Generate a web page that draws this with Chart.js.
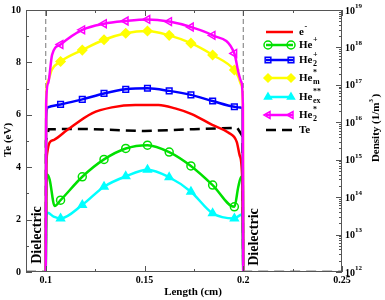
<!DOCTYPE html>
<html><head><meta charset="utf-8">
<script src="https://cdn.jsdelivr.net/npm/chart.js@4"></script>
<style>html,body{margin:0;padding:0;background:#fff;}canvas{display:block;}</style>
</head><body>
<canvas id="c" width="385" height="300"></canvas>
<script>
// ---- data ----
const lengthMarkers = [0.1075, 0.1185, 0.1295, 0.1405, 0.1515, 0.1625, 0.1735, 0.1845, 0.1955];

const eX = [0.1, 0.1003, 0.1008, 0.1020, 0.1042, 0.1110, 0.1234, 0.1335, 0.1453, 0.1571, 0.1655, 0.1739, 0.1843, 0.1924, 0.1967, 0.1982, 0.1995, 0.2];
const eDensity = [1e12, 5e14, 1.6e15, 2.9e15, 3.4e15, 6.3e15, 1.74e16, 2.5e16, 2.9e16, 2.9e16, 2.35e16, 1.66e16, 8.5e15, 5.3e15, 3.0e15, 1.3e15, 3e14, 1e12];

const hePlusX = [0.1, 0.1003, 0.1008, 0.1020, 0.1045, 0.1075, 0.1185, 0.1295, 0.1405, 0.1515, 0.1625, 0.1735, 0.1845, 0.1955, 0.1975, 0.1990, 0.1998, 0.2];
const hePlusDensity = [1e12, 2e14, 4e14, 2.9e14, 5.8e13, 8.3e13, 3.5e14, 1.02e15, 2.0e15, 2.45e15, 1.6e15, 6.8e14, 2.1e14, 5.5e13, 1.9e14, 3.5e14, 2e14, 1e12];

const he2PlusX = [0.1, 0.1002, 0.1010, 0.1075, 0.1185, 0.1295, 0.1405, 0.1515, 0.1625, 0.1735, 0.1845, 0.1955, 0.1985, 0.1996, 0.2];
const he2PlusDensity = [1e12, 1.2e16, 2.5e16, 3.0e16, 4.1e16, 5.9e16, 7.6e16, 8.1e16, 6.9e16, 5.4e16, 3.7e16, 2.6e16, 2.5e16, 2.3e16, 1e12];

const heMX = [0.1, 0.1002, 0.1012, 0.1030, 0.1075, 0.1185, 0.1295, 0.1405, 0.1515, 0.1625, 0.1735, 0.1845, 0.1955, 0.1975, 0.1990, 0.1998, 0.2];
const heMDensity = [1e12, 4e16, 1.3e17, 2.5e17, 4.2e17, 8.5e17, 1.6e18, 2.4e18, 2.75e18, 2.1e18, 1.3e18, 6.3e17, 2.5e17, 1.65e17, 1.0e17, 3e16, 1e12];

const heExX = [0.1, 0.1003, 0.1010, 0.1040, 0.1075, 0.1185, 0.1295, 0.1405, 0.1515, 0.1625, 0.1735, 0.1845, 0.1955, 0.1980, 0.1995, 0.2];
const heExDensity = [1e12, 3e13, 3.8e13, 3.0e13, 2.7e13, 6.2e13, 1.9e14, 3.6e14, 5.4e14, 3.4e14, 1.4e14, 3.7e13, 2.7e13, 3.2e13, 3.5e13, 1e12];

const he2StarX = [0.1, 0.1002, 0.1012, 0.1032, 0.1075, 0.1185, 0.1295, 0.1405, 0.1515, 0.1625, 0.1735, 0.1845, 0.1955, 0.1975, 0.1990, 0.1998, 0.2];
const he2StarDensity = [1e12, 3e16, 1.1e17, 6.3e17, 1.2e18, 2.95e18, 4.3e18, 5.1e18, 5.6e18, 4.9e18, 3.5e18, 2.1e18, 6.9e17, 2.2e17, 1.2e17, 3e16, 1e12];

const teX = [0.09, 0.1, 0.1001, 0.1015, 0.12, 0.15, 0.175, 0.197, 0.1995, 0.2, 0.25];
const teValues = [0, 0, 5.0, 5.45, 5.46, 5.38, 5.45, 5.5, 5.2, 0, 0];

const dielectricEdges = [0.1, 0.2];

const xMajorTicks = [0.1, 0.15, 0.2, 0.25];
const xMajorLabels = ['0.1', '0.15', '0.2', '0.25'];
const xMinorTicks = [0.125, 0.175, 0.225];
const teMajorTicks = [0, 2, 4, 6, 8, 10];
const teMinorTicks = [1, 3, 5, 7, 9];
const densityExponents = [12, 13, 14, 15, 16, 17, 18, 19];

// ---- build ----
function pts(xs, ys) { return xs.map((x, i) => ({ x: x, y: ys[i] })); }
function markerRadius(r) {
  return (c) => (c.raw && lengthMarkers.some(m => Math.abs(m - c.raw.x) < 1e-7)) ? r : 0;
}
const SERIF = '"Liberation Serif", "DejaVu Serif", serif';

function densitySet(label, xs, ys, color, style, r, fill, rot) {
  return {
    label: label, data: pts(xs, ys), yAxisID: 'y2',
    borderColor: color, backgroundColor: fill, borderWidth: 2.5,
    pointStyle: style, pointRotation: rot || 0,
    pointRadius: markerRadius(r), pointBorderColor: color, pointBackgroundColor: fill,
    pointBorderWidth: 1.5, cubicInterpolationMode: 'monotone', fill: false
  };
}

const datasets = [
  densitySet('He2*', he2StarX, he2StarDensity, '#ff00ff', 'triangle', 4.5, 'rgba(255,255,255,0)', -90),
  densitySet('Hem*', heMX, heMDensity, '#ffff00', 'rectRot', 4.5, '#ffff00'),
  densitySet('He2+', he2PlusX, he2PlusDensity, '#0000ff', 'rect', 4, 'rgba(255,255,255,0)'),
  densitySet('e-', eX, eDensity, '#ff0000', 'circle', 0, '#ff0000'),
  densitySet('He+', hePlusX, hePlusDensity, '#00e000', 'circle', 4, 'rgba(255,255,255,0)'),
  densitySet('Heex**', heExX, heExDensity, '#00ffff', 'triangle', 4.5, '#00ffff'),
  {
    label: 'Te', data: pts(teX, teValues), yAxisID: 'y',
    borderColor: '#000', borderWidth: 2.5, borderDash: [10, 6], pointRadius: 0, tension: 0
  }
];
dielectricEdges.forEach(e => datasets.push({
  label: 'edge', data: [{ x: e, y: 0 }, { x: e, y: 10 }], yAxisID: 'y',
  borderColor: '#777', borderWidth: 1, borderDash: [5, 3], pointRadius: 0
}));

function richText(ctx, x, y, base, sub, sup, size) {
  ctx.font = 'bold ' + size + 'px ' + SERIF;
  ctx.textAlign = 'left'; ctx.textBaseline = 'middle';
  ctx.fillText(base, x, y);
  const w = ctx.measureText(base).width;
  ctx.font = 'bold ' + Math.round(size * 0.7) + 'px ' + SERIF;
  if (sub) ctx.fillText(sub, x + w + 0.5, y + size * 0.38);
  if (sup) ctx.fillText(sup, x + w + 0.5, y - size * 0.45);
}

const legendRows = [
  { ds: 'e-', base: 'e', sup: '-', y: 32 },
  { ds: 'He+', base: 'He', sup: '+', y: 45 },
  { ds: 'He2+', base: 'He', sub: '2', sup: '+', y: 60 },
  { ds: 'Hem*', base: 'He', sub: 'm', sup: '*', y: 78 },
  { ds: 'Heex**', base: 'He', sub: 'ex', sup: '**', y: 97 },
  { ds: 'He2*', base: 'He', sub: '2', sup: '*', y: 115 },
  { ds: 'Te', base: 'Te', y: 130 }
];

const decor = {
  id: 'decor',
  afterDraw(chart) {
    const { ctx, chartArea: a, scales } = chart;
    const sx = scales.x, sy = scales.y, sy2 = scales.y2;
    ctx.save();
    // frame
    ctx.strokeStyle = '#555'; ctx.lineWidth = 1;
    ctx.strokeRect(Math.round(a.left) + 0.5, Math.round(a.top) + 0.5,
      Math.round(a.right - a.left) - 1, Math.round(a.bottom - a.top) - 1);
    ctx.beginPath();
    // x ticks (bottom & top, inward)
    xMajorTicks.forEach(v => { const p = Math.round(sx.getPixelForValue(v)) + 0.5;
      ctx.moveTo(p, a.bottom); ctx.lineTo(p, a.bottom - 6); ctx.moveTo(p, a.top); ctx.lineTo(p, a.top + 6); });
    xMinorTicks.forEach(v => { const p = Math.round(sx.getPixelForValue(v)) + 0.5;
      ctx.moveTo(p, a.bottom); ctx.lineTo(p, a.bottom - 3); ctx.moveTo(p, a.top); ctx.lineTo(p, a.top + 3); });
    // left ticks
    teMajorTicks.forEach(v => { const p = Math.round(sy.getPixelForValue(v)) + 0.5;
      ctx.moveTo(a.left, p); ctx.lineTo(a.left + 6, p); });
    teMinorTicks.forEach(v => { const p = Math.round(sy.getPixelForValue(v)) + 0.5;
      ctx.moveTo(a.left, p); ctx.lineTo(a.left + 3, p); });
    // right ticks (log)
    densityExponents.forEach((e, i) => {
      const p = Math.round(sy2.getPixelForValue(Math.pow(10, e))) + 0.5;
      ctx.moveTo(a.right, p); ctx.lineTo(a.right - 6, p);
      if (i < densityExponents.length - 1) {
        for (let k = 2; k <= 9; k++) {
          const q = Math.round(sy2.getPixelForValue(k * Math.pow(10, e))) + 0.5;
          ctx.moveTo(a.right, q); ctx.lineTo(a.right - 3, q);
        }
      }
    });
    ctx.stroke();

    ctx.fillStyle = '#000';
    // x tick labels
    ctx.font = 'bold 10px ' + SERIF; ctx.textAlign = 'center'; ctx.textBaseline = 'middle';
    xMajorTicks.forEach((v, i) => ctx.fillText(xMajorLabels[i], sx.getPixelForValue(v), a.bottom + 8));
    // left tick labels
    ctx.textAlign = 'right';
    teMajorTicks.forEach(v => ctx.fillText(String(v), a.left - 5, sy.getPixelForValue(v)));
    // right tick labels
    densityExponents.forEach(e => {
      const p = sy2.getPixelForValue(Math.pow(10, e));
      ctx.font = 'bold 10px ' + SERIF; ctx.textAlign = 'left';
      ctx.fillText('10', a.right + 3, p + 1);
      ctx.font = 'bold 7px ' + SERIF;
      ctx.fillText(String(e), a.right + 13, p - 4);
    });
    // axis titles
    ctx.font = 'bold 11px ' + SERIF; ctx.textAlign = 'center';
    ctx.fillText('Length (cm)', 193, 292);
    ctx.save(); ctx.translate(8, 140); ctx.rotate(-Math.PI / 2);
    ctx.fillText('Te (eV)', 0, 0); ctx.restore();
    ctx.save(); ctx.translate(376, 128); ctx.rotate(-Math.PI / 2);
    ctx.font = 'bold 11px ' + SERIF; ctx.textAlign = 'left';
    const dw = ctx.measureText('Density (1/m').width;
    const full = dw + ctx.measureText(')').width + 5;
    ctx.fillText('Density (1/m', -full / 2, 0);
    ctx.font = 'bold 7px ' + SERIF; ctx.fillText('3', -full / 2 + dw, -5);
    ctx.font = 'bold 11px ' + SERIF; ctx.fillText(')', -full / 2 + dw + 5, 0);
    ctx.restore();
    // Dielectric labels
    ctx.font = 'bold 14px ' + SERIF; ctx.textAlign = 'center';
    [[sx.getPixelForValue(0.1) - 8, 235], [sx.getPixelForValue(0.2) + 11, 237]].forEach(([px, py]) => {
      ctx.save(); ctx.translate(px, py); ctx.rotate(-Math.PI / 2);
      ctx.fillText('Dielectric', 0, 0); ctx.restore();
    });
    // legend
    legendRows.forEach(r => {
      const ds = chart.data.datasets.find(d => d.label === r.ds);
      ctx.save();
      ctx.strokeStyle = ds.borderColor; ctx.lineWidth = 2.5;
      if (ds.borderDash) ctx.setLineDash(ds.borderDash);
      ctx.beginPath(); ctx.moveTo(266, r.y); ctx.lineTo(293, r.y); ctx.stroke();
      ctx.setLineDash([]);
      if (r.ds !== 'e-' && r.ds !== 'Te') {
        ctx.fillStyle = ds.pointBackgroundColor; ctx.strokeStyle = ds.borderColor; ctx.lineWidth = 1.5;
        [268, 291].forEach(px => Chart.helpers.drawPoint(ctx,
          { pointStyle: ds.pointStyle, rotation: ds.pointRotation, radius: 4, borderWidth: 1.5 }, px, r.y));
      }
      ctx.restore();
      ctx.fillStyle = '#000';
      richText(ctx, 299, r.y, r.base, r.sub, r.sup, 11);
    });
    ctx.restore();
  }
};

new Chart(document.getElementById('c'), {
  type: 'line',
  data: { datasets: datasets },
  options: {
    responsive: false, animation: false, devicePixelRatio: 1,
    layout: { padding: { left: 26, right: 43, top: 10, bottom: 28 } },
    plugins: { legend: { display: false }, tooltip: { enabled: false } },
    scales: {
      x: { type: 'linear', min: 0.09, max: 0.25, display: false },
      y: { type: 'linear', min: 0, max: 10, display: false },
      y2: { type: 'logarithmic', min: 1e12, max: 1e19, display: false }
    }
  },
  plugins: [decor]
});
</script>
</body></html>
